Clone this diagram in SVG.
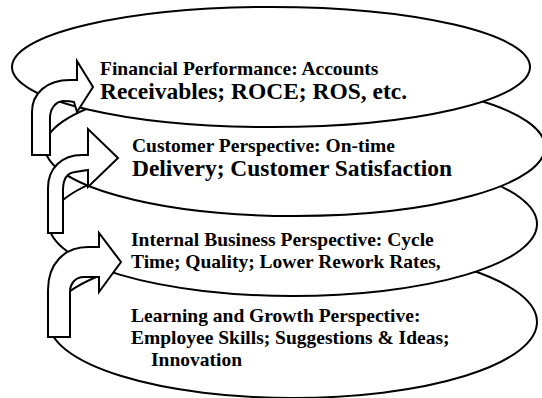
<svg xmlns="http://www.w3.org/2000/svg" width="542" height="398" viewBox="0 0 542 398">
  <style>
    .layer { fill: #ffffff; stroke: #000000; stroke-width: 2; }
    .arrow { fill: #ffffff; stroke: #000000; stroke-width: 2; stroke-linejoin: miter; }
    text { font-family: "Liberation Serif", "Times New Roman", serif; font-weight: bold; fill: #000000; }
  </style>
  <rect width="542" height="398" fill="#ffffff"/>

  <!-- layers are stacked bottom-up so each upper disc covers the one below -->
  <g id="learning-growth">
    <ellipse class="layer" cx="293" cy="322" rx="244" ry="76"/>
    <text font-family="Liberation Serif, serif" font-size="19.5" x="131" y="322">Learning and Growth Perspective:</text>
    <text font-family="Liberation Serif, serif" font-size="19.5" x="131" y="344">Employee Skills; Suggestions &amp; Ideas;</text>
    <text font-family="Liberation Serif, serif" font-size="19.5" x="151" y="366">Innovation</text>
  </g>

  <g id="internal-business">
    <ellipse class="layer" cx="293" cy="224" rx="244" ry="72"/>
    <text font-family="Liberation Serif, serif" font-size="19.5" x="131" y="246">Internal Business Perspective: Cycle</text>
    <text font-family="Liberation Serif, serif" font-size="19.5" x="131" y="268">Time; Quality; Lower Rework Rates,</text>
  </g>

  <g id="customer">
    <ellipse class="layer" cx="295" cy="147" rx="250" ry="69"/>
    <text font-family="Liberation Serif, serif" font-size="19.5" x="132" y="152">Customer Perspective: On-time</text>
    <text font-family="Liberation Serif, serif" font-size="23" x="132" y="176" textLength="320" lengthAdjust="spacingAndGlyphs">Delivery; Customer Satisfaction</text>
  </g>

  <g id="financial">
    <ellipse class="layer" cx="271" cy="67" rx="259" ry="60"/>
    <text font-family="Liberation Serif, serif" font-size="19.5" x="100" y="75">Financial Performance: Accounts</text>
    <text font-family="Liberation Serif, serif" font-size="23" x="100" y="99" textLength="307" lengthAdjust="spacingAndGlyphs">Receivables; ROCE; ROS, etc.</text>
  </g>

  <!-- bent-up arrows linking each layer to the one above -->
  <g id="connectors">
    <path class="arrow" d="M32,155 L32,112 C32,93 47,80 70,80 L77,80 L77,61 L93,87 L77,112 L74,102 C70,101 66,101 63,101 C55,102 50,109 50,118 L50,155 Z"/>
    <path class="arrow" d="M48,233 L48,188 C48,168 62,155 82,155 L88,155 L88,129 L118,158 L88,187 L88,170 L75,172 C67,173 63,180 63,190 L63,233 Z"/>
    <path class="arrow" d="M48,337 L48,290 C48,264 64,247 88,247 L99,247 L99,233 L121,262 L99,292 L99,277 L84,277 C75,277 70,284 70,292 L70,337 Z"/>
  </g>
</svg>
